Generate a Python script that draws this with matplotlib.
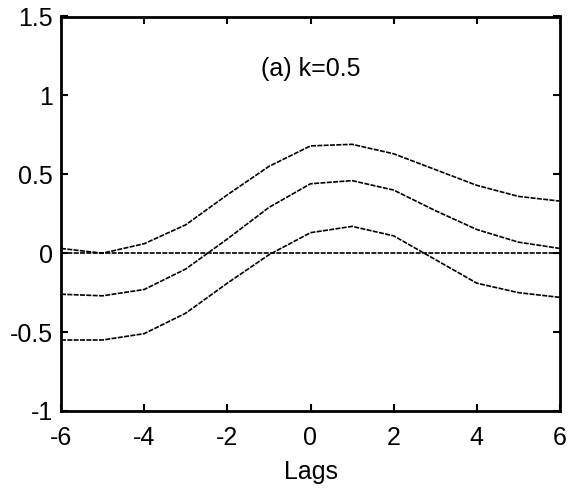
import matplotlib
matplotlib.use("Agg")
import matplotlib.pyplot as plt
import numpy as np

plt.rcParams['font.family'] = ['Liberation Sans', 'DejaVu Sans']

lags = np.arange(-6, 7)
upper = [0.03, 0.00, 0.06, 0.18, 0.37, 0.55, 0.68, 0.69, 0.63, 0.53, 0.43, 0.36, 0.33]
middle = [-0.26, -0.27, -0.23, -0.10, 0.09, 0.29, 0.44, 0.46, 0.40, 0.27, 0.15, 0.07, 0.03]
lower = [-0.55, -0.55, -0.51, -0.38, -0.19, -0.01, 0.13, 0.17, 0.11, -0.04, -0.19, -0.25, -0.28]
zero = [0.0] * len(lags)

xticks = [-6, -4, -2, 0, 2, 4, 6]
yticks = [-1, -0.5, 0, 0.5, 1, 1.5]
yticklabels = ['-1', '-0.5', '0', '0.5', '1', '1.5']

fig = plt.figure(figsize=(5.71, 4.9), dpi=100)
ax = fig.add_axes([61/571, 1 - 411/490, (560-61)/571, (411-16.5)/490])

ls = (0, (3, 0.8))
ax.plot(lags, zero, color='black', lw=1.2, ls=ls)
for s in (upper, middle, lower):
    ax.plot(lags, s, color='black', lw=1.2, ls=ls)

ax.set_xlim(-6, 6)
ax.set_ylim(-1, 1.5)
ax.set_xticks(xticks)
ax.set_xticklabels([str(t) for t in xticks])
ax.set_yticks(yticks)
ax.set_yticklabels(yticklabels)
ax.tick_params(direction='in', length=5, width=1.5, labelsize=18,
               top=True, right=True, pad=6)
ax.tick_params(axis='x', pad=11)
for sp in ax.spines.values():
    sp.set_linewidth(2)

ax.text(0, 1.17, '(a) k=0.5', ha='center', va='center', fontsize=18)
ax.set_xlabel('Lags', fontsize=18, labelpad=7)

fig.savefig('out.png', dpi=100)
